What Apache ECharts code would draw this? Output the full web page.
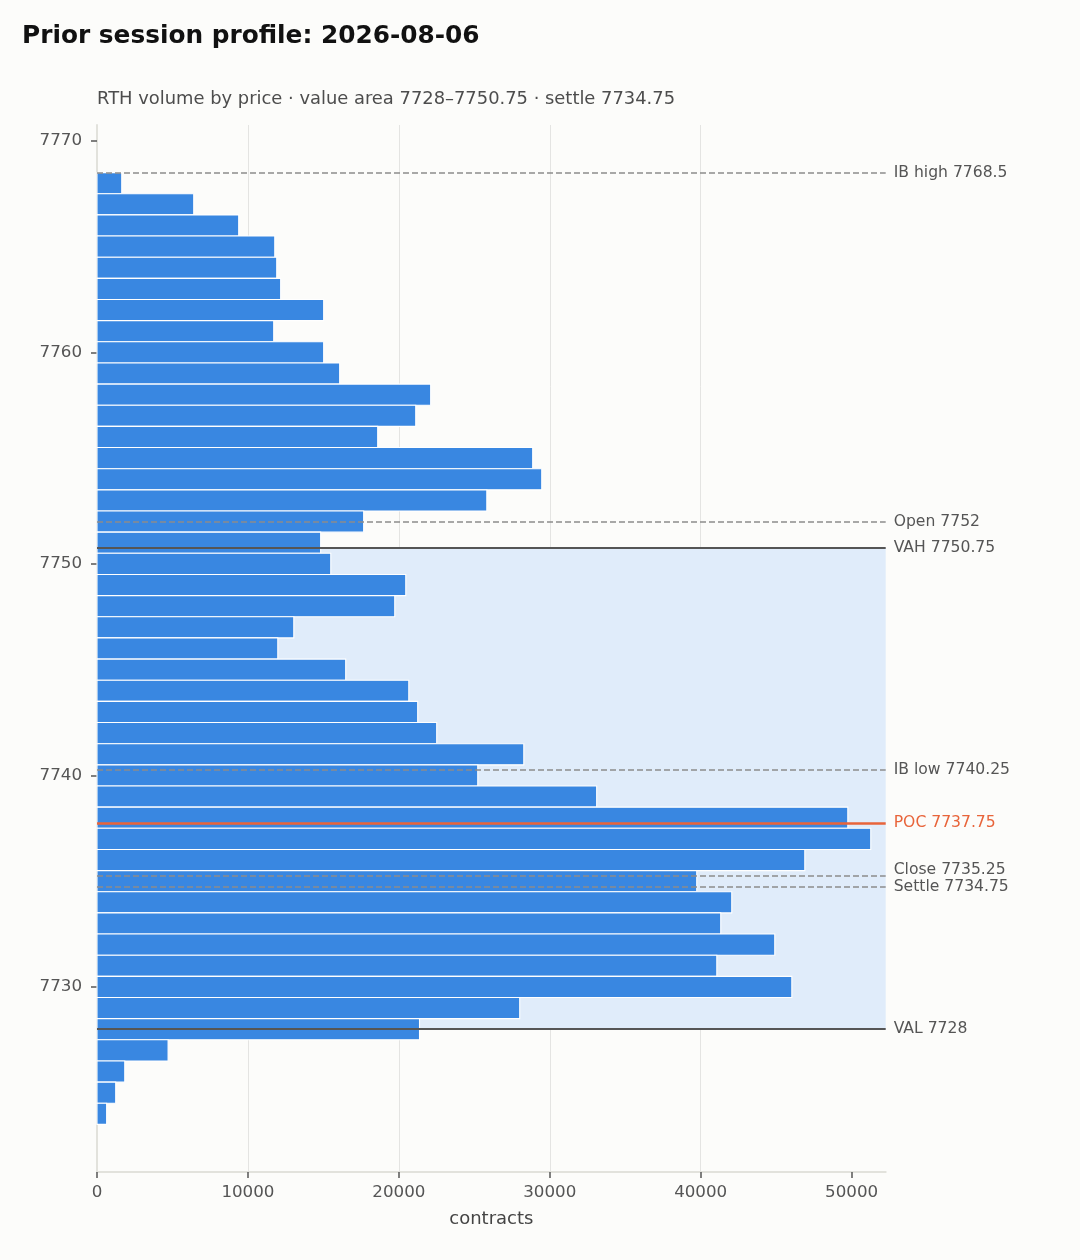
<!DOCTYPE html>
<html>
<head>
<meta charset="utf-8">
<title>Prior session profile</title>
<script src="https://cdn.jsdelivr.net/npm/echarts@6/dist/echarts.min.js"></script>
<style>
  html, body { margin: 0; padding: 0; background: #fcfcfa; }
  #chart { width: 1080px; height: 1260px; }
</style>
</head>
<body>
<div id="chart"></div>
<script>
// price bins (1 pt), top to bottom
var prices = [7768, 7767, 7766, 7765, 7764, 7763, 7762, 7761, 7760, 7759,
              7758, 7757, 7756, 7755, 7754, 7753, 7752, 7751, 7750, 7749,
              7748, 7747, 7746, 7745, 7744, 7743, 7742, 7741, 7740, 7739,
              7738, 7737, 7736, 7735, 7734, 7733, 7732, 7731, 7730, 7729,
              7728, 7727, 7726, 7725, 7724];
// contracts traded at each price
var volumes = [1640, 6410, 9390, 11780, 11910, 12170, 15020, 11710, 15020, 16080,
               22110, 21120, 18600, 28870, 29470, 25830, 17670, 14820, 15490, 20460,
               19730, 13040, 11980, 16480, 20660, 21250, 22510, 28280, 25230, 33110,
               49750, 51270, 46900, 39740, 42060, 41330, 44910, 41070, 46040, 28010,
               21370, 4710, 1840, 1240, 640];

// reference levels
var levelNames  = ['IB high', 'Open', 'VAH', 'IB low', 'POC', 'Close', 'Settle', 'VAL'];
var levelPrices = [7768.5, 7752, 7750.75, 7740.25, 7737.75, 7735.25, 7734.75, 7728];
var levelKinds  = ['dash', 'dash', 'va', 'dash', 'poc', 'dash', 'dash', 'va'];
var labelNudge  = [0, 0, 0, 0, 0, -6, 0, 0];

var VAL = 7728, VAH = 7750.75;
var priceTicks = [7730, 7740, 7750, 7760, 7770];
var volumeTicks = [0, 10000, 20000, 30000, 40000, 50000];

var BAR = '#3987e1';
var POC = '#e8643a';
var FONT = 'DejaVu Sans';

var chart = echarts.init(document.getElementById('chart'), null, { renderer: 'canvas' });

function lineStyleFor(kind) {
    if (kind === 'poc') return { color: POC, width: 2.5, type: 'solid' };
    if (kind === 'va') return { color: '#555555', width: 2, type: 'solid' };
    return { color: '#8c8c8c', width: 1.5, type: [6, 3] };
}

function plain(v) { return String(v); }

var markLines = levelNames.map(function (n, i) {
    return {
        name: n + ' ' + levelPrices[i],
        yAxis: levelPrices[i],
        lineStyle: lineStyleFor(levelKinds[i]),
        label: {
            color: levelKinds[i] === 'poc' ? POC : '#555555',
            offset: [0, labelNudge[i]]
        }
    };
});

var option = {
    backgroundColor: '#fcfcfa',
    animation: false,
    title: [{
        text: 'Prior session profile: 2026-08-06',
        left: 22, top: 23, padding: 0,
        textStyle: { fontFamily: FONT, fontSize: 24.8, fontWeight: 'bold', color: '#111111', lineHeight: 28 }
    }, {
        text: 'RTH volume by price · value area 7728–7750.75 · settle 7734.75',
        left: 97, top: 89, padding: 0,
        textStyle: { fontFamily: FONT, fontSize: 17.9, fontWeight: 'normal', color: '#4d4d4d', lineHeight: 21 }
    }],
    grid: { left: 97, right: 194.3, top: 125, bottom: 88, containLabel: false, outerBoundsMode: 'none' },
    xAxis: {
        type: 'value',
        min: 0, max: 52260, interval: 10000,
        name: 'contracts', nameLocation: 'middle', nameGap: 38,
        nameTextStyle: { fontFamily: FONT, fontSize: 18, color: '#444444' },
        axisLine: { show: true, lineStyle: { color: '#e2e2dc', width: 2 } },
        axisTick: { show: true, length: 6, customValues: volumeTicks, lineStyle: { color: '#555555', width: 1.5 } },
        axisLabel: { fontFamily: FONT, fontSize: 16.7, color: '#555555', margin: 12, customValues: volumeTicks, formatter: plain },
        splitLine: { show: true, showMaxLine: false, lineStyle: { color: '#e4e4e2', width: 1 } }
    },
    yAxis: {
        type: 'value',
        min: 7721.25, max: 7770.75,
        axisLine: { show: true, lineStyle: { color: '#e2e2dc', width: 2 } },
        axisTick: { show: true, length: 6, customValues: priceTicks, lineStyle: { color: '#555555', width: 1.5 } },
        axisLabel: { fontFamily: FONT, fontSize: 16.7, color: '#555555', margin: 15, customValues: priceTicks, formatter: plain },
        splitLine: { show: false }
    },
    series: [{
        type: 'custom',
        name: 'volume',
        z: 2,
        encode: { x: 1, y: 0 },
        data: prices.map(function (p, i) { return [p, volumes[i]]; }),
        renderItem: function (params, api) {
            var p = api.value(0), v = api.value(1);
            var a = api.coord([0, p + 0.5]);
            var b = api.coord([v, p - 0.5]);
            return {
                type: 'rect',
                shape: { x: a[0], y: a[1], width: b[0] - a[0], height: b[1] - a[1] },
                style: { fill: BAR, stroke: '#ffffff', lineWidth: 1.1 }
            };
        },
        markArea: {
            silent: true,
            itemStyle: { color: '#e0ecfa' },
            data: [[{ xAxis: 0, yAxis: VAL }, { xAxis: 52260, yAxis: VAH }]]
        },
        markLine: {
            silent: true,
            symbol: ['none', 'none'],
            label: {
                show: true, position: 'end', distance: 8, formatter: '{b}',
                fontFamily: FONT, fontSize: 15.6
            },
            data: markLines
        }
    }]
};

chart.setOption(option);
</script>
</body>
</html>
